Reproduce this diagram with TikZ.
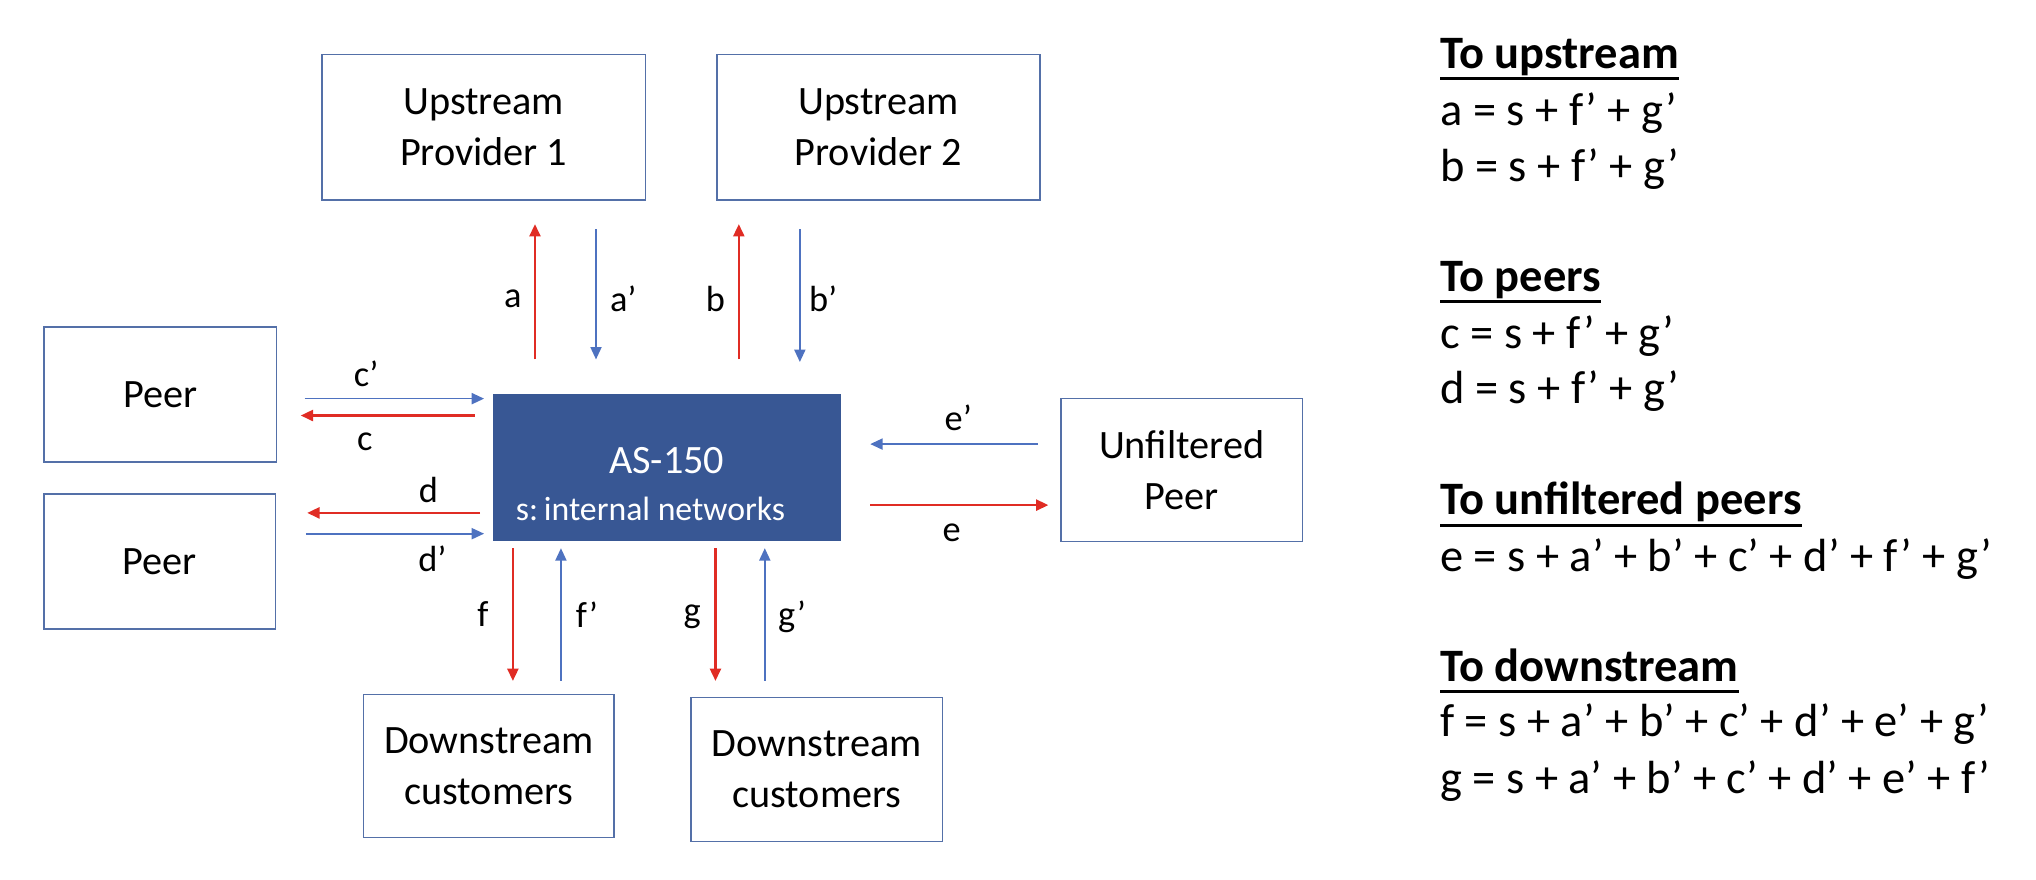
\documentclass[tikz,border=0pt]{standalone}
\usepackage{fontspec}
\setmainfont{Carlito}
\usetikzlibrary{arrows.meta}

\definecolor{asblue}{RGB}{56,87,148}
\definecolor{boxline}{RGB}{84,112,168}
\definecolor{inblue}{RGB}{78,114,192}
\definecolor{outred}{RGB}{224,44,36}

% underlined heading of the equations
\newcommand{\eqhead}[1]{\setbox0\hbox{\bfseries #1}\rlap{\rule[-9pt]{\wd0}{2.2pt}}\box0}

\tikzset{
  party/.style={draw=boxline, line width=1.2pt, align=center, inner sep=0pt,
    font=\fontsize{31}{39}\selectfont},
  inarr/.style={draw=inblue, line width=1.3pt, -{Triangle[length=9.5pt,width=8.5pt]}},
  outarr/.style={draw=outred, line width=1.8pt, -{Triangle[length=9.5pt,width=8.5pt]}},
  lbl/.style={inner sep=0pt, font=\fontsize{28}{28}\selectfont},
  eqn/.style={anchor=base west, inner sep=0pt, font=\fontsize{35.8}{35.8}\selectfont},
}

\begin{document}
\begin{tikzpicture}[x=1pt,y=-1pt]
    \useasboundingbox (0,0) rectangle (1568,677.7);

    % parties
    \node[party, minimum width=249pt, minimum height=112pt] (up1) at (372.5,98) {Upstream\\Provider 1};
    \node[party, minimum width=249pt, minimum height=112pt] (up2) at (676.5,98) {Upstream\\Provider 2};
    \node[party, minimum width=179pt, minimum height=104pt] (peer1) at (123.5,304) {Peer};
    \node[party, minimum width=178pt, minimum height=104pt] (peer2) at (123,432.5) {Peer};
    \node[party, minimum width=186pt, minimum height=110pt] (ufp) at (910,362) {Unfiltered\\Peer};
    \node[party, minimum width=193pt, minimum height=110pt] (down1) at (376.5,590) {Downstream\\customers};
    \node[party, minimum width=194pt, minimum height=111pt] (down2) at (629,592.5) {Downstream\\customers};

    % the AS itself
    \node[fill=asblue, draw=asblue, minimum width=267pt, minimum height=112pt] (as) at (513.5,360) {};
    \node[text=white, inner sep=0pt, font=\fontsize{31}{31}\selectfont] (asname) at (513.5,355) {AS-150};
    \node[text=white, inner sep=0pt, font=\fontsize{26}{26}\selectfont] (asnets) at (501,392) {s:\,internal networks};

    % channels
    \coordinate (xa) at (412,0);
    \coordinate (xas) at (459,0);
    \coordinate (xb) at (569,0);
    \coordinate (xbs) at (616,0);
    \coordinate (yc) at (0,320);
    \coordinate (ycs) at (0,307);
    \coordinate (yd) at (0,395);
    \coordinate (yds) at (0,411);
    \coordinate (ye) at (0,389);
    \coordinate (yes) at (0,342);
    \coordinate (xf) at (395,0);
    \coordinate (xfs) at (432,0);
    \coordinate (xg) at (551,0);
    \coordinate (xgs) at (589,0);

    % up
    \draw[outarr, shorten <=27pt, shorten >=18pt] (as.north -| xa) -- (up1.south -| xa);
    \draw[inarr, shorten <=22pt, shorten >=27pt] (up1.south -| xas) -- (as.north -| xas);
    \draw[outarr, shorten <=27pt, shorten >=18pt] (as.north -| xb) -- (up2.south -| xb);
    \draw[inarr, shorten <=22pt, shorten >=25pt] (up2.south -| xbs) -- (as.north -| xbs);
    % left
    \draw[inarr, shorten <=21pt, shorten >=7pt] (peer1.east |- ycs) -- (as.west |- ycs);
    \draw[outarr, shorten <=14pt, shorten >=18pt] (as.west |- yc) -- (peer1.east |- yc);
    \draw[outarr, shorten <=10pt, shorten >=24pt] (as.west |- yd) -- (peer2.east |- yd);
    \draw[inarr, shorten <=23pt, shorten >=7pt] (peer2.east |- yds) -- (as.west |- yds);
    % right
    \draw[inarr, shorten <=17pt, shorten >=23pt] (ufp.west |- yes) -- (as.east |- yes);
    \draw[outarr, shorten <=23pt, shorten >=9pt] (as.east |- ye) -- (ufp.west |- ye);
    % down
    \draw[outarr, shorten <=6pt, shorten >=10pt] (as.south -| xf) -- (down1.north -| xf);
    \draw[inarr, shorten <=10pt, shorten >=6pt] (down1.north -| xfs) -- (as.south -| xfs);
    \draw[outarr, shorten <=6pt, shorten >=12pt] (as.south -| xg) -- (down2.north -| xg);
    \draw[inarr, shorten <=12pt, shorten >=6pt] (down2.north -| xgs) -- (as.south -| xgs);

    % arrow labels
    \node[lbl] (la) at (395,230) {a};
    \node[lbl] (las) at (480,230) {a’};
    \node[lbl] (lb) at (551,230) {b};
    \node[lbl] (lbs) at (634,230) {b’};
    \node[lbl] (lcs) at (282,288) {c’};
    \node[lbl] (lc) at (281,340) {c};
    \node[lbl] (ld) at (330,377) {d};
    \node[lbl] (lds) at (333,430) {d’};
    \node[lbl] (les) at (738,322) {e’};
    \node[lbl] (le) at (733,410) {e};
    \node[lbl] (lf) at (372,473) {f};
    \node[lbl] (lfs) at (452,473) {f’};
    \node[lbl] (lg) at (533,475) {g};
    \node[lbl] (lgs) at (610,475) {g’};

    % equations
    \node[eqn] (hup) at (1109,52.6) {\eqhead{To upstream}};
    \node[eqn] (eqa) at (1109,96.3) {a = s + f’ + g’};
    \node[eqn] (eqb) at (1109,139.9) {b = s + f’ + g’};
    \node[eqn] (hpeer) at (1109,224.6) {\eqhead{To peers}};
    \node[eqn] (eqc) at (1109,268.2) {c = s + f’ + g’};
    \node[eqn] (eqd) at (1109,310.6) {d = s + f’ + g’};
    \node[eqn] (hufp) at (1109,396.6) {\eqhead{To unfiltered peers}};
    \node[eqn] (eqe) at (1109,440.2) {e = s + a’ + b’ + c’ + d’ + f’ + g’};
    \node[eqn] (hdown) at (1109,524.9) {\eqhead{To downstream}};
    \node[eqn] (eqf) at (1109,567.2) {f = s + a’ + b’ + c’ + d’ + e’ + g’};
    \node[eqn] (eqg) at (1109,610.9) {g = s + a’ + b’ + c’ + d’ + e’ + f’};
\end{tikzpicture}
\end{document}
